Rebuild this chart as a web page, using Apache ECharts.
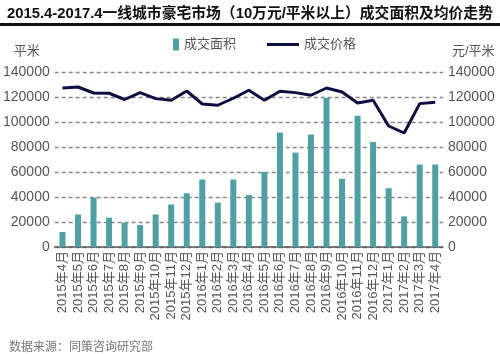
<!DOCTYPE html>
<html>
<head>
<meta charset="utf-8">
<script src="https://cdn.jsdelivr.net/npm/echarts@6/dist/echarts.min.js"></script>
<style>
  html, body { margin: 0; padding: 0; background: #fff; }
  #chart { width: 500px; height: 354px; }
</style>
</head>
<body>
<div id="chart"></div>
<script>
  // 月份
  const months = [
    "2015年4月", "2015年5月", "2015年6月", "2015年7月", "2015年8月", "2015年9月",
    "2015年10月", "2015年11月", "2015年12月", "2016年1月", "2016年2月", "2016年3月",
    "2016年4月", "2016年5月", "2016年6月", "2016年7月", "2016年8月", "2016年9月",
    "2016年10月", "2016年11月", "2016年12月", "2017年1月", "2017年2月", "2017年3月",
    "2017年4月"
  ];
  // 成交面积（平米）
  const areaData = [
    12000, 26000, 39500, 23500, 19500, 17500, 26000, 34000, 43000, 54000, 35500, 54000,
    41500, 60000, 91500, 75500, 90000, 119500, 54500, 105000, 84000, 47000, 24500, 66000,
    66000
  ];
  // 成交价格（元/平米）
  const priceData = [
    127200, 128000, 123200, 123000, 118000, 123500, 118700, 117400, 124800, 114400, 113400, 119000,
    125400, 117400, 124600, 123500, 121400, 127200, 124000, 115200, 117400, 96800, 91200, 114700,
    115800
  ];
  const yTicks = { min: 0, max: 140000, interval: 20000 };

  const fontFamily = 'Arial, "Liberation Sans", "Noto Sans CJK SC", sans-serif';
  const chart = echarts.init(document.getElementById("chart"));

  // 纵轴刻度不带千分位
  const plainNum = (v) => String(v);

  const option = {
    animation: false,
    textStyle: { fontFamily: fontFamily },
    title: [
      {
        text: "2015.4-2017.4一线城市豪宅市场（10万元/平米以上）成交面积及均价走势",
        left: "center",
        top: 2,
        textStyle: { fontSize: 14.8, fontWeight: "bold", color: "#111", fontFamily: fontFamily }
      },
      {
        text: "数据来源：同策咨询研究部",
        left: 4,
        top: 337,
        textStyle: { fontSize: 12, fontWeight: "normal", color: "#777", fontFamily: fontFamily }
      }
    ],
    graphic: [
      {
        type: "rect",
        left: 0,
        top: 23,
        shape: { width: 500, height: 3 },
        style: { fill: "#111" }
      }
    ],
    legend: [
      {
        data: [{ name: "成交面积", icon: "rect" }],
        left: 168,
        top: 33,
        itemWidth: 6,
        itemHeight: 12,
        itemGap: 5,
        textStyle: { fontSize: 13, color: "#555" }
      },
      {
        data: [{ name: "成交价格", icon: "rect" }],
        left: 262,
        top: 33,
        itemWidth: 32,
        itemHeight: 3,
        textStyle: { fontSize: 13, color: "#555" }
      }
    ],
    grid: {
      left: 53,
      right: 57,
      top: 72,
      bottom: 107,
      containLabel: false
    },
    xAxis: {
      type: "category",
      data: months,
      axisTick: { show: false },
      axisLine: { lineStyle: { color: "#555", width: 1.5 } },
      axisLabel: {
        rotate: 90,
        interval: 0,
        fontSize: 13,
        color: "#555",
        margin: 4
      }
    },
    yAxis: [
      {
        type: "value",
        min: yTicks.min,
        max: yTicks.max,
        interval: yTicks.interval,
        name: "平米",
        nameGap: 14,
        nameTextStyle: { fontSize: 13, color: "#555", align: "right", padding: [0, 15, 0, 0] },
        axisLine: { show: false },
        axisTick: { show: false },
        axisLabel: { fontSize: 14, color: "#555", margin: 5, formatter: plainNum },
        splitLine: { lineStyle: { color: "#888", type: [4, 3], width: 1.3 } }
      },
      {
        type: "value",
        min: yTicks.min,
        max: yTicks.max,
        interval: yTicks.interval,
        name: "元/平米",
        nameGap: 14,
        nameTextStyle: { fontSize: 13, color: "#555", align: "left", padding: [0, 0, 0, 9] },
        axisLine: { show: false },
        axisTick: { show: false },
        axisLabel: { fontSize: 14, color: "#555", margin: 5, formatter: plainNum },
        splitLine: { show: false }
      }
    ],
    series: [
      {
        name: "成交面积",
        type: "bar",
        barWidth: 6,
        itemStyle: { color: "#4F9FA4" },
        data: areaData
      },
      {
        name: "成交价格",
        type: "line",
        yAxisIndex: 1,
        symbol: "none",
        lineStyle: { color: "#0E0E40", width: 3 },
        itemStyle: { color: "#0E0E40" },
        data: priceData
      }
    ]
  };

  chart.setOption(option);
</script>
</body>
</html>
